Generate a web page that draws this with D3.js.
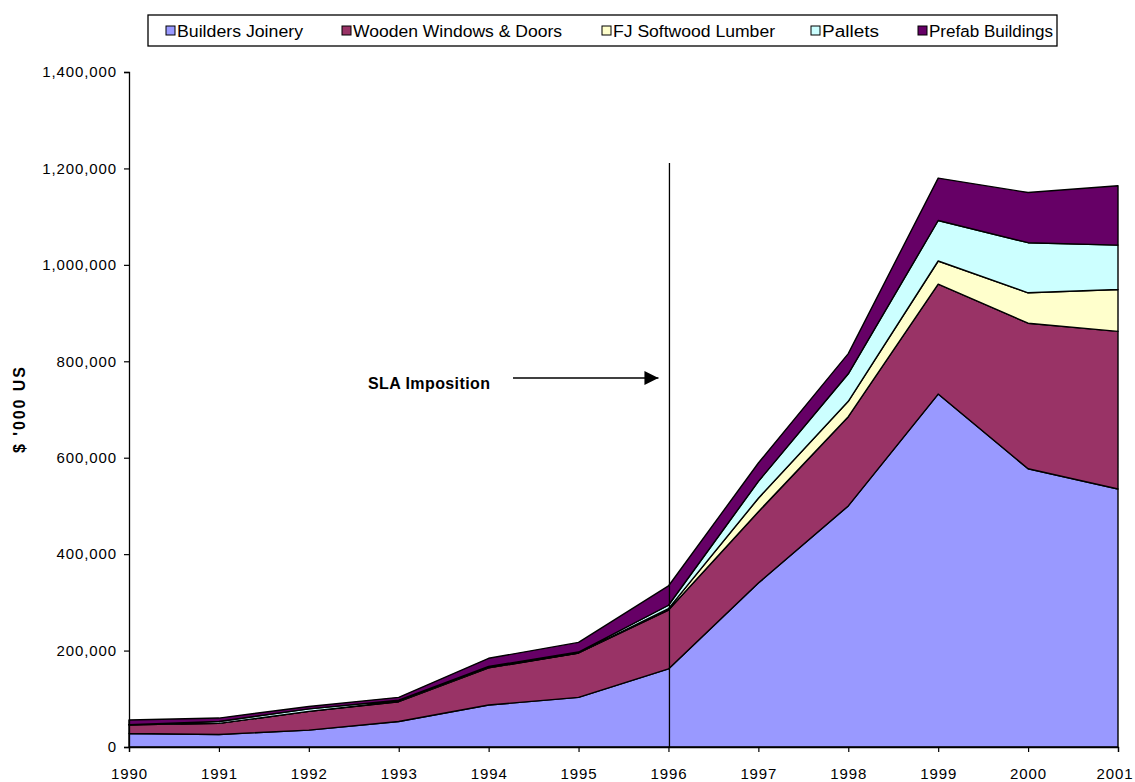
<!DOCTYPE html>
<html>
<head>
<meta charset="utf-8">
<script src="https://cdn.jsdelivr.net/npm/d3@7"></script>
<style>
  html, body { margin: 0; padding: 0; background: #fff; }
  svg { display: block; font-family: "Liberation Sans", Arial, sans-serif; }
</style>
</head>
<body>
<svg id="chart" width="1135" height="782"></svg>
<script>
// Export values by product group, $'000 US
const years = [1990, 1991, 1992, 1993, 1994, 1995, 1996, 1997, 1998, 1999, 2000, 2001];
const buildersJoinery   = [28000, 26000, 35000, 53000, 87000, 103000, 162000, 340000, 500000, 732000, 577000, 535000];
const woodenWindowsDoors = [18000, 23000, 39000, 41000, 77000, 92000, 122000, 148000, 185000, 228000, 302000, 327000];
const fjSoftwoodLumber  = [0, 0, 0, 1000, 1000, 0, 3000, 28000, 32000, 48000, 63000, 87000];
const pallets           = [0, 4000, 5000, 2000, 2000, 2000, 7000, 35000, 57000, 84000, 104000, 92000];
const prefabBuildings   = [10000, 7000, 5000, 6000, 17000, 20000, 40000, 38000, 42000, 88000, 104000, 123000];

const seriesNames = ["Builders Joinery", "Wooden Windows & Doors", "FJ Softwood Lumber", "Pallets", "Prefab Buildings"];
const seriesColors = ["#9999FF", "#993366", "#FFFFCC", "#CCFFFF", "#660066"];
const yTicks = [0, 200000, 400000, 600000, 800000, 1000000, 1200000, 1400000];
const markerYear = 1996;
const markerLabel = "SLA Imposition";
const yAxisTitle = "$ '000 US";

const seriesValues = [buildersJoinery, woodenWindowsDoors, fjSoftwoodLumber, pallets, prefabBuildings];
const rows = years.map((yr, i) => {
  const r = { year: yr };
  seriesNames.forEach((n, k) => { r[n] = seriesValues[k][i]; });
  return r;
});

const svg = d3.select("#chart");
const x = d3.scaleLinear().domain([1990, 2001]).range([129, 1118]);
const y = d3.scaleLinear().domain([0, 1400000]).range([747, 72]);

const stacked = d3.stack().keys(seriesNames)(rows);
const area = d3.area()
  .x(d => x(d.data.year))
  .y0(d => y(d[0]))
  .y1(d => y(d[1]));

svg.append("g").selectAll("path")
  .data(stacked)
  .join("path")
  .attr("d", area)
  .attr("fill", (d, i) => seriesColors[i])
  .attr("stroke", "#000")
  .attr("stroke-width", 1.4)
  .attr("stroke-linejoin", "round");

// Axes
const fmt = d3.format(",");
const yAxis = svg.append("g")
  .attr("transform", `translate(${x(1990)},0)`)
  .call(d3.axisLeft(y).tickValues(yTicks).tickFormat(fmt).tickSize(5).tickPadding(7));
const xAxis = svg.append("g")
  .attr("transform", `translate(0,${y(0)})`)
  .call(d3.axisBottom(x).tickValues(years).tickFormat(d3.format("d")).tickSize(5).tickPadding(16));

[yAxis, xAxis].forEach(ax => {
  ax.select(".domain").attr("stroke", "#000").attr("stroke-width", 1.3);
  ax.selectAll(".tick line").attr("stroke", "#000").attr("stroke-width", 1.2);
  ax.selectAll(".tick text")
    .attr("fill", "#000")
    .style("font-size", "15px")
    .style("letter-spacing", "0.9px")
    .style("font-family", "'Liberation Sans', Arial, sans-serif");
});
// keep the last year label inside the canvas
xAxis.selectAll(".tick text").filter(d => d === 2001)
  .attr("text-anchor", "end")
  .attr("dx", 15);

// Y axis title
svg.append("text")
  .attr("transform", `translate(25,410) rotate(-90)`)
  .attr("text-anchor", "middle")
  .attr("textLength", 86)
  .attr("lengthAdjust", "spacing")
  .style("font-size", "16px")
  .style("font-weight", "bold")
  .text(yAxisTitle);

// Policy marker line and annotation
svg.append("line")
  .attr("x1", x(markerYear) + 1).attr("x2", x(markerYear) + 1)
  .attr("y1", 163).attr("y2", y(0))
  .attr("stroke", "#000").attr("stroke-width", 1.3);

svg.append("defs").append("marker")
  .attr("id", "arrowHead")
  .attr("viewBox", "0 0 10 10")
  .attr("refX", 10).attr("refY", 5)
  .attr("markerWidth", 16).attr("markerHeight", 14)
  .attr("markerUnits", "userSpaceOnUse")
  .attr("orient", "auto")
  .append("path").attr("d", "M0,0 L10,5 L0,10 Z").attr("fill", "#000");

svg.append("line")
  .attr("x1", 513).attr("x2", x(markerYear) - 10)
  .attr("y1", 378).attr("y2", 378)
  .attr("stroke", "#000").attr("stroke-width", 1.3)
  .attr("marker-end", "url(#arrowHead)");

svg.append("text")
  .attr("x", 368).attr("y", 389)
  .attr("textLength", 122)
  .attr("lengthAdjust", "spacing")
  .style("font-size", "16px")
  .style("font-weight", "bold")
  .text(markerLabel);

// Legend
const legend = svg.append("g");
legend.append("rect")
  .attr("x", 148).attr("y", 15).attr("width", 909).attr("height", 31)
  .attr("fill", "#fff").attr("stroke", "#000").attr("stroke-width", 1.3);
const legendX = [166, 342, 602, 811, 918];
const legendW = [126, 209, 162, 57, 124];
seriesNames.forEach((n, i) => {
  legend.append("rect")
    .attr("x", legendX[i]).attr("y", 26).attr("width", 9).attr("height", 9)
    .attr("fill", seriesColors[i]).attr("stroke", "#000").attr("stroke-width", 1);
  legend.append("text")
    .attr("x", legendX[i] + 11).attr("y", 37)
    .attr("textLength", legendW[i])
    .attr("lengthAdjust", "spacingAndGlyphs")
    .style("font-size", "16px")
    .text(n);
});
</script>
</body>
</html>
